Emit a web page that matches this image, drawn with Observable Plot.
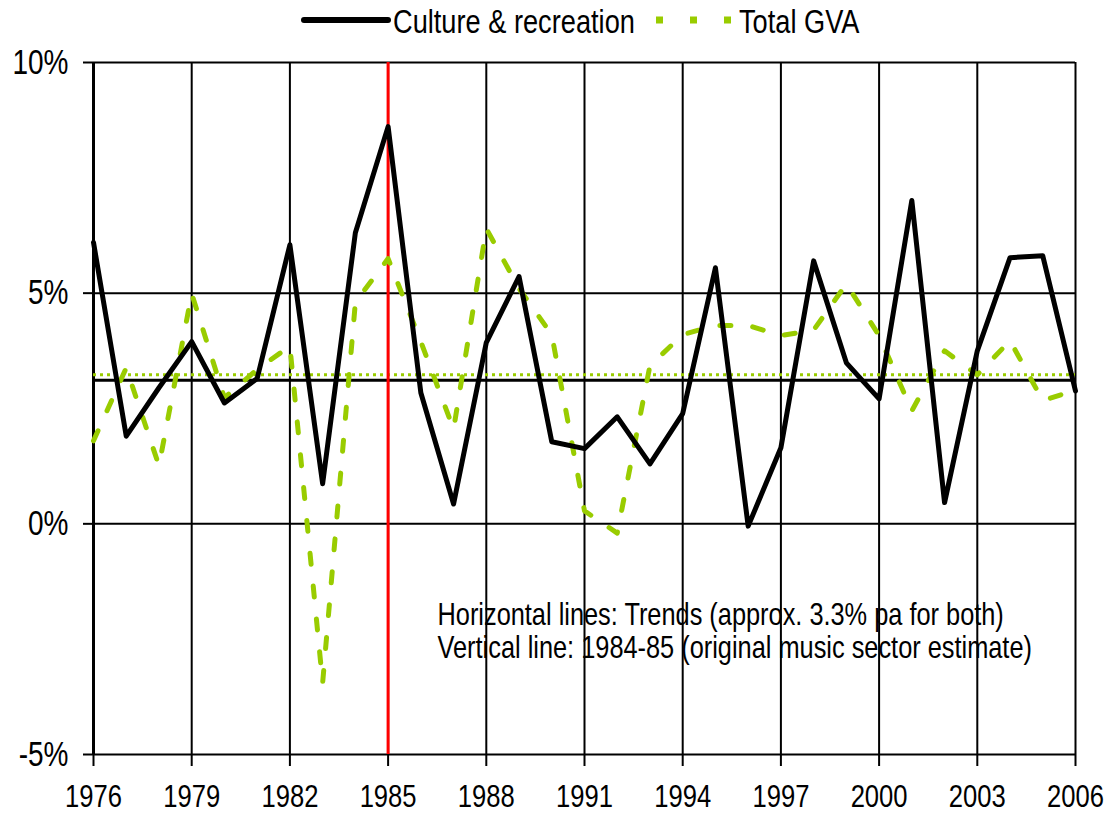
<!DOCTYPE html>
<html>
<head>
<meta charset="utf-8">
<script src="https://cdn.jsdelivr.net/npm/d3@7"></script>
<script src="https://cdn.jsdelivr.net/npm/@observablehq/plot@0.6"></script>
<style>
  html, body { margin: 0; padding: 0; background: #fff; }
  #legend { position: relative; width: 1113px; height: 40px; font-family: "Liberation Sans", Arial, sans-serif; font-size: 34px; color: #000; }
  #legend .lbl { position: absolute; top: 4px; line-height: 34px; white-space: nowrap; transform: scaleX(0.8); transform-origin: left center; }
  #legend svg { position: absolute; }
</style>
</head>
<body>
<div id="legend"></div>
<div id="chart"></div>
<script>
// ---- data ----
const years = [1976, 1977, 1978, 1979, 1980, 1981, 1982, 1983, 1984, 1985, 1986, 1987, 1988, 1989, 1990, 1991,
               1992, 1993, 1994, 1995, 1996, 1997, 1998, 1999, 2000, 2001, 2002, 2003, 2004, 2005, 2006];
const culture = [6.1, 1.9, 2.95, 3.95, 2.62, 3.15, 6.05, 0.87, 6.31, 8.61, 2.84, 0.43, 3.93, 5.36, 1.78, 1.63,
                 2.32, 1.30, 2.39, 5.55, -0.05, 1.65, 5.70, 3.49, 2.71, 7.01, 0.46, 3.75, 5.77, 5.81, 2.88];
const totalGVA = [1.8, 3.38, 1.26, 4.99, 2.73, 3.35, 3.85, -3.45, 4.8, 5.75, 3.95, 2.05, 6.4, 5.1, 4.1, 0.28,
                  -0.2, 3.43, 4.1, 4.3, 4.3, 4.08, 4.2, 5.2, 4.08, 2.45, 3.75, 3.23, 3.97, 2.67, 2.9];
const cultureTrend = [3.11];
const gvaTrend = [3.23];
const markerYear = [1985];
const xTicks = [1976, 1979, 1982, 1985, 1988, 1991, 1994, 1997, 2000, 2003, 2006];
const yTicks = [-5, 0, 5, 10];
const seriesNames = ["Culture & recreation", "Total GVA"];
const noteLines = ["Horizontal lines: Trends (approx. 3.3% pa for both)",
                   "Vertical line: 1984-85 (original music sector estimate)"];

const GREEN = "#99cc00";
const rows = years.map((year, i) => ({year, culture: culture[i], gva: totalGVA[i]}));

// ---- legend (HTML, above the SVG) ----
const legend = document.getElementById("legend");
legend.innerHTML = `
  <svg style="left:300px;top:14px" width="92" height="12"><line x1="4" y1="6" x2="88" y2="6" stroke="#000" stroke-width="6" stroke-linecap="round"/></svg>
  <span class="lbl" style="left:393px">${seriesNames[0]}</span>
  <svg style="left:656px;top:14px" width="80" height="12"><line x1="0" y1="6" x2="76" y2="6" stroke="${GREEN}" stroke-width="7" stroke-dasharray="7,27"/></svg>
  <span class="lbl" style="left:739px">${seriesNames[1]}</span>`;

// ---- chart ----
const chart = Plot.plot({
  width: 1113,
  height: 774,
  marginTop: 22,
  marginBottom: 60,
  marginLeft: 93,
  marginRight: 38,
  style: {fontFamily: "Liberation Sans, Arial, sans-serif", fontSize: "33px", color: "#000", background: "#fff"},
  x: {domain: [1976, 2006]},
  y: {domain: [-5, 10]},
  marks: [
    Plot.text([noteLines.join("\n")], {frameAnchor: "top-left", dx: 344, dy: 539, lineAnchor: "top",
      textAnchor: "start", fontSize: 31.7, lineHeight: 1.04, fill: "#000"}),
    Plot.ruleY(yTicks, {stroke: "#000", strokeWidth: 2}),
    Plot.ruleX(xTicks, {stroke: "#000", strokeWidth: 2}),
    Plot.ruleX([xTicks[0]], {stroke: "#000", strokeWidth: 3}),
    Plot.axisY({ticks: yTicks, tickFormat: d => d + "%", tickSize: 10, tickPadding: 15, strokeWidth: 2, label: null, fontSize: 35}),
    Plot.axisX({ticks: xTicks, tickFormat: d => String(d), tickSize: 12, tickPadding: 18, strokeWidth: 2, label: null, fontSize: 32}),
    Plot.ruleY(cultureTrend, {stroke: "#000", strokeWidth: 3}),
    Plot.ruleY(gvaTrend, {stroke: GREEN, strokeWidth: 3, strokeDasharray: "3,4"}),
    Plot.ruleX(markerYear, {stroke: "#ff0000", strokeWidth: 3}),
    Plot.line(rows, {x: "year", y: "gva", stroke: GREEN, strokeWidth: 5, strokeDasharray: "11,22", strokeLinejoin: "round"}),
    Plot.line(rows, {x: "year", y: "culture", stroke: "#000", strokeWidth: 5, strokeLinejoin: "round"})
  ]
});
document.getElementById("chart").appendChild(chart);

// Horizontally condense all texts (the reference uses a narrow-looking face).
// Each text is wrapped in a <g> that takes over its positioning transform,
// and the text itself is scaled around its own anchor edge.
const NS = "http://www.w3.org/2000/svg";
Array.from(chart.querySelectorAll("text")).forEach(t => {
  const g = document.createElementNS(NS, "g");
  const tr = t.getAttribute("transform");
  if (tr) { g.setAttribute("transform", tr); t.removeAttribute("transform"); }
  t.parentNode.insertBefore(g, t);
  g.appendChild(t);
  const anchor = getComputedStyle(t).textAnchor;
  const origin = anchor === "end" ? "right" : anchor === "middle" ? "center" : "left";
  t.style.transformBox = "fill-box";
  t.style.transformOrigin = origin + " center";
  t.style.transform = "scaleX(0.8)";
});
</script>
</body>
</html>
